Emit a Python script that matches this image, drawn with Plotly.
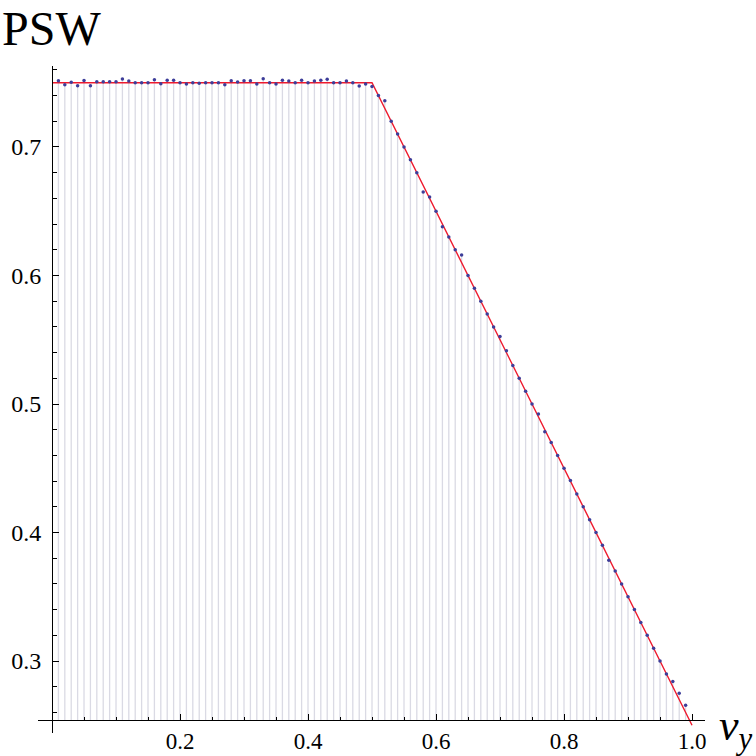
import plotly.graph_objects as go

# ---- data ----
x_vals = [round(0.01 * i, 2) for i in range(1, 100)]
psw_sim = [
    0.7516, 0.7484, 0.7503, 0.7477, 0.7518, 0.7477, 0.7508, 0.7508, 0.7508, 0.7508,
    0.7529, 0.7513, 0.7500, 0.7500, 0.7500, 0.7523, 0.7492, 0.7520, 0.7520, 0.7500,
    0.7490, 0.7500, 0.7495, 0.7500, 0.7500, 0.7500, 0.7485, 0.7515, 0.7505, 0.7515,
    0.7515, 0.7490, 0.7530, 0.7500, 0.7490, 0.7520, 0.7513, 0.7500, 0.7520, 0.7500,
    0.7513, 0.7520, 0.7526, 0.7500, 0.7500, 0.7513, 0.7500, 0.7474, 0.7490,
    0.7470, 0.7400, 0.7360, 0.7200, 0.7100, 0.7000, 0.6900, 0.6800, 0.6650, 0.6610,
    0.6500, 0.6380, 0.6300, 0.6200, 0.6160, 0.6000, 0.5900, 0.5800, 0.5700, 0.5600,
    0.5526, 0.5415, 0.5300, 0.5200, 0.5100, 0.5000, 0.4923, 0.4785, 0.4700, 0.4600,
    0.4500, 0.4405, 0.4300, 0.4200, 0.4100, 0.4000, 0.3900, 0.3785, 0.3700, 0.3600,
    0.3500, 0.3400, 0.3300, 0.3200, 0.3100, 0.3000, 0.2900, 0.2840, 0.2750, 0.2655,
]
theory_x = [0.0, 0.5, 1.0]
theory_y = [0.75, 0.75, 0.25]
axis_y = 0.254

x_ticks = [0.2, 0.4, 0.6, 0.8, 1.0]
x_ticktext = ["0.2", "0.4", "0.6", "0.8", "1.0"]
x_minor = [0.05, 0.1, 0.15, 0.25, 0.3, 0.35, 0.45, 0.5, 0.55, 0.65, 0.7, 0.75, 0.85, 0.9, 0.95]
y_ticks = [0.3, 0.4, 0.5, 0.6, 0.7]
y_ticktext = ["0.3", "0.4", "0.5", "0.6", "0.7"]
y_minor = [0.26, 0.28, 0.32, 0.34, 0.36, 0.38, 0.42, 0.44, 0.46, 0.48,
           0.52, 0.54, 0.56, 0.58, 0.62, 0.64, 0.66, 0.68, 0.72, 0.74, 0.76]

# ---- layout geometry ----
W = H = 756
L, R, T, B = 38, 51, 66, 23
xr = [-0.0219, 1.0203]
yr = [0.244, 0.763]
FONT = "Liberation Serif"

# filling stems from each point down to the axis
stem_x, stem_y = [], []
for xv, yv in zip(x_vals, psw_sim):
    stem_x += [xv, xv, None]
    stem_y += [axis_y, yv, None]

fig = go.Figure()
fig.add_trace(go.Scatter(x=stem_x, y=stem_y, mode="lines",
                         line=dict(color="#dadae4", width=1.3),
                         hoverinfo="skip", showlegend=False))
fig.add_trace(go.Scatter(x=theory_x, y=theory_y, mode="lines",
                         line=dict(color="#ee1a2e", width=1.4),
                         showlegend=False, cliponaxis=False))
fig.add_trace(go.Scatter(x=x_vals, y=psw_sim, mode="markers",
                         marker=dict(color="#3d3d99", size=3.5),
                         showlegend=False))

yaxis_pos = (0 - xr[0]) / (xr[1] - xr[0])
xaxis_pos = (axis_y - yr[0]) / (yr[1] - yr[0])

fig.update_layout(
    width=W, height=H,
    margin=dict(l=L, r=R, t=T, b=B, autoexpand=False),
    paper_bgcolor="white", plot_bgcolor="white",
    font=dict(family=FONT, color="black"),
    xaxis=dict(range=xr, domain=[0, 1], anchor="free", position=xaxis_pos,
               automargin=False,
               showline=True, linecolor="black", linewidth=1,
               ticks="inside", ticklen=6, tickwidth=1, tickcolor="black",
               tickmode="array", tickvals=x_ticks, ticktext=x_ticktext,
               minor=dict(tickmode="array", tickvals=x_minor, ticks="inside",
                          ticklen=3.5, tickwidth=1, tickcolor="black"),
               showgrid=False, zeroline=False,
               tickfont=dict(family=FONT, size=23, color="black"),
               ticklabelstandoff=0),
    yaxis=dict(range=yr, domain=[0, 1], anchor="free", position=yaxis_pos,
               automargin=False,
               showline=True, linecolor="black", linewidth=1,
               ticks="inside", ticklen=6, tickwidth=1, tickcolor="black",
               tickmode="array", tickvals=y_ticks, ticktext=y_ticktext,
               minor=dict(tickmode="array", tickvals=y_minor, ticks="inside",
                          ticklen=3.5, tickwidth=1, tickcolor="black"),
               showgrid=False, zeroline=False,
               tickfont=dict(family=FONT, size=24, color="black"),
               ticklabelstandoff=6),
    annotations=[
        dict(text="PSW", xref="paper", yref="paper",
             x=(0 - L) / (W - L - R), y=(H - B - 0) / (H - T - B),
             xanchor="left", yanchor="top", showarrow=False,
             font=dict(family=FONT, size=48, color="black")),
        dict(text="<i>ν</i><sub><i>y</i></sub>", xref="paper", yref="paper",
             x=(755 - L) / (W - L - R), y=(H - B - 699) / (H - T - B),
             xanchor="right", yanchor="top", showarrow=False,
             font=dict(family=FONT, size=44, color="black")),
    ],
)

fig.write_html(
    "out.html",
    config={"displayModeBar": False},
    post_script="document.body.style.margin='0px';document.body.style.overflow='hidden';",
)
